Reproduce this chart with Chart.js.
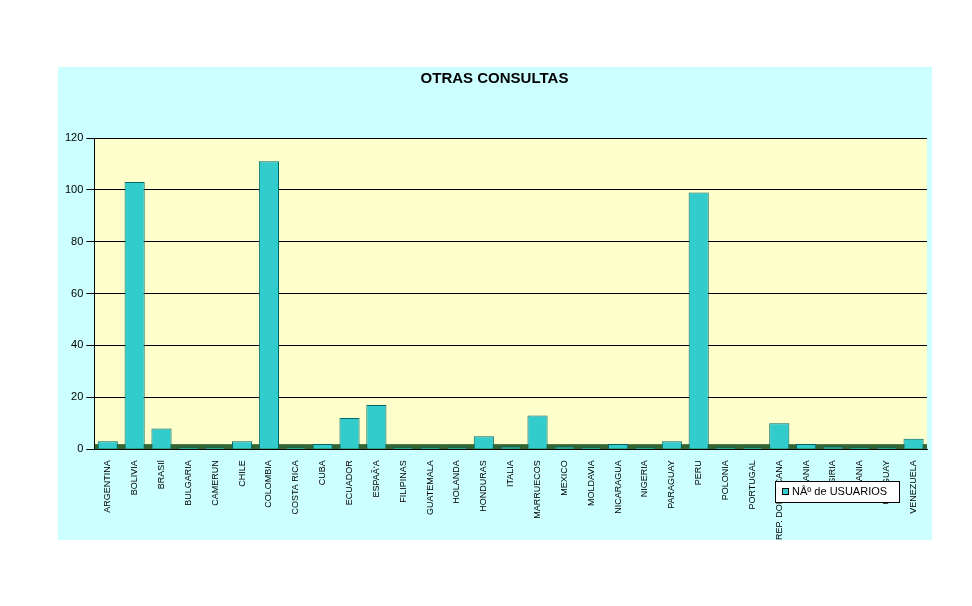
<!DOCTYPE html><html><head><script src="https://cdn.jsdelivr.net/npm/chart.js@4"></script>
<style>body{margin:0;background:#fff}</style></head><body><canvas id="c" width="972" height="606"></canvas>
<script>
const categories=["ARGENTINA","BOLIVIA","BRASIl","BULGARIA","CAMERUN","CHILE","COLOMBIA","COSTA RICA","CUBA","ECUADOR","ESPAÑA","FILIPINAS","GUATEMALA","HOLANDA","HONDURAS","ITALIA","MARRUECOS","MEXICO","MOLDAVIA","NICARAGUA","NIGERIA","PARAGUAY","PERU","POLONIA","PORTUGAL","REP. DOMINICANA","RUMANIA","SIRIA","UCRANIA","URUGUAY","VENEZUELA"];
const usuarios=[3,103,8,0,0,3,111,0,2,12,17,0,0,0,5,1,13,1,0,2,0,3,99,0,0,10,2,1,0,0,4];
const yTicks=[0,20,40,60,80,100,120];
const bg={id:'bg',beforeDraw(ch){const x=ch.ctx,a=ch.chartArea;x.save();x.fillStyle='#ccffff';x.fillRect(58,67,874,473);
x.fillStyle='#ffffcc';x.fillRect(a.left,a.top,a.right-a.left,a.bottom-a.top);
x.fillStyle='#336633';x.fillRect(a.left,a.bottom-5,a.right-a.left,5);x.restore();}};
const leg={id:'leg',afterDraw(ch){const x=ch.ctx;x.save();x.fillStyle='#fff';x.fillRect(775,481,124,21);x.strokeStyle='#000';x.lineWidth=1;x.strokeRect(775.5,481.5,124,21);
x.fillStyle='#33cccc';x.fillRect(782,488,7,7);x.strokeRect(782.5,488.5,6,6);x.fillStyle='#000';x.font='11px Arial';x.textBaseline='middle';x.fillText('Nº de USUARIOS',792,492);x.restore();}};
new Chart(document.getElementById('c'),{type:'bar',data:{labels:categories,datasets:[{label:'Nº de USUARIOS',data:usuarios,
backgroundColor(c){const ch=c.chart;const m=ch.getDatasetMeta(0).data[c.dataIndex];if(!m||!isFinite(m.x)||!isFinite(m.width))return '#33cccc';const g=ch.ctx.createLinearGradient(m.x-m.width/2,0,m.x+m.width/2,0);g.addColorStop(0,'#00aaaa');g.addColorStop(0.45,'#ffffff');g.addColorStop(1,'#009999');return g;},
borderColor:'#006666',borderWidth:1,barPercentage:0.75,categoryPercentage:1,minBarLength:2}]},
options:{responsive:false,animation:false,devicePixelRatio:1,
layout:{padding:{left:62,right:45,top:0,bottom:63}},
plugins:{legend:{display:false},tooltip:{enabled:false},title:{display:true,text:'OTRAS CONSULTAS',color:'#000',font:{family:'Arial',size:15,weight:'bold'},padding:{top:70,bottom:50},align:'center'}},
scales:{x:{grid:{display:false},border:{color:'#000'},ticks:{color:'#000',font:{family:'Arial',size:9},maxRotation:90,minRotation:90,autoSkip:false}},
y:{min:0,max:120,afterBuildTicks(s){s.ticks=yTicks.map(v=>({value:v}));},grid:{color:'#000',drawTicks:true},border:{color:'#000'},ticks:{color:'#000',font:{family:'Arial',size:11}}}}},
plugins:[bg,leg]});
</script></body></html>
